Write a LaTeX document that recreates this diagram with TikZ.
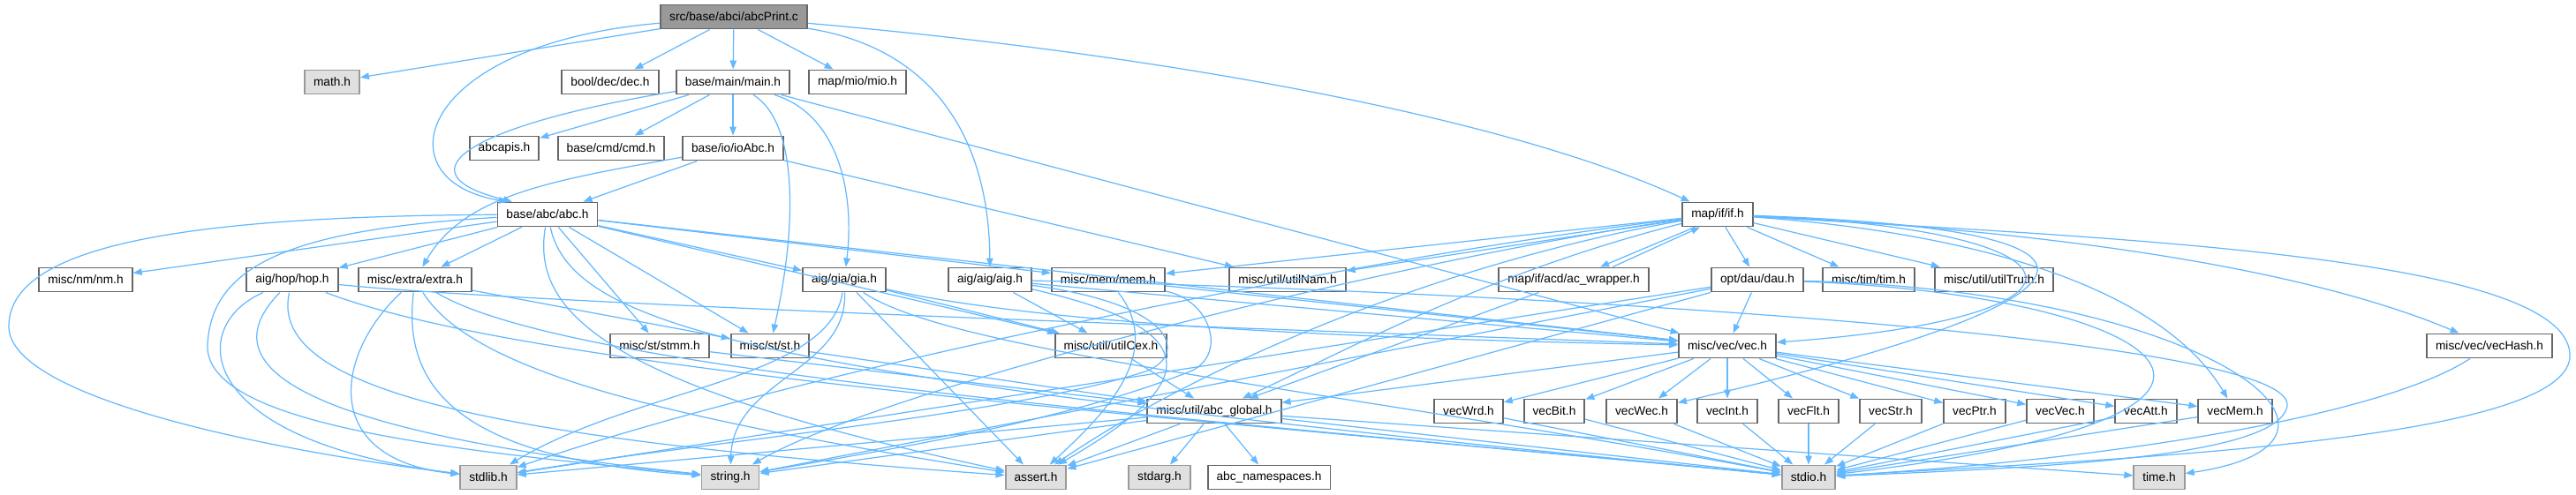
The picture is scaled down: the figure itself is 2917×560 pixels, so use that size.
\documentclass[tikz,border=0pt]{standalone}
\usepackage{fontspec}
\setmainfont{Liberation Sans}
\usetikzlibrary{arrows.meta}
\definecolor{edgeblue}{HTML}{63B8FF}
\definecolor{boxline}{HTML}{666666}
\definecolor{sysline}{HTML}{999999}
\definecolor{sysfill}{HTML}{E0E0E0}
\definecolor{srcfill}{HTML}{999999}
\begin{document}
\begin{tikzpicture}[x=0.01cm,y=-0.01cm]
%define
\tikzstyle{file} = [rectangle, draw=boxline, fill=white, line width=0.55pt, minimum height=0.27cm, inner xsep=0.1cm, inner ysep=0pt, text centered, font=\fontsize{3.9}{4.6}\selectfont]
\tikzstyle{sysfile} = [file, draw=sysline, fill=sysfill]
\tikzstyle{srcfile} = [file, fill=srcfill]
\tikzstyle{arrow} = [-{Triangle[length=0.1cm,width=0.075cm]}, draw=edgeblue, line width=0.35pt]

\useasboundingbox (0,0) rectangle (2917,560);

%row0
\node[srcfile](abcprint) at (831,19){src/base/abci/abcPrint.c};
%row1
\node[sysfile](mathh) at (376,93){math.h};
\node[file](dech) at (691,93){bool/dec/dec.h};
\node[file](mainh) at (830,93){base/main/main.h};
\node[file](mioh) at (971,93){map/mio/mio.h};
%row2
\node[file](abcapis) at (571,168){abcapis.h};
\node[file](cmdh) at (692,168){base/cmd/cmd.h};
\node[file](ioabc) at (830,168){base/io/ioAbc.h};
%row3
\node[file](abch) at (620,243){base/abc/abc.h};
\node[file](ifh) at (1945,243){map/if/if.h};
%row4
\node[file](nmh) at (97,317){misc/nm/nm.h};
\node[file](hoph) at (331,317){aig/hop/hop.h};
\node[file](extrah) at (470,317){misc/extra/extra.h};
\node[file](giah) at (956,317){aig/gia/gia.h};
\node[file](aigh) at (1121,317){aig/aig/aig.h};
\node[file](memh) at (1255,317){misc/mem/mem.h};
\node[file](utilnam) at (1458,317){misc/util/utilNam.h};
\node[file](acwrap) at (1782,317){map/if/acd/ac\_wrapper.h};
\node[file](dauh) at (1990,317){opt/dau/dau.h};
\node[file](timh) at (2116,317){misc/tim/tim.h};
\node[file](utiltruth) at (2258,317){misc/util/utilTruth.h};
%row5
\node[file](stmmh) at (747,392){misc/st/stmm.h};
\node[file](sth) at (872,392){misc/st/st.h};
\node[file](utilcex) at (1258,392){misc/util/utilCex.h};
\node[file](vech) at (1956,392){misc/vec/vec.h};
\node[file](vechash) at (2819,392){misc/vec/vecHash.h};
%row6
\node[file](abcglobal) at (1375,466){misc/util/abc\_global.h};
\node[file](vecwrd) at (1663,466){vecWrd.h};
\node[file](vecbit) at (1760,466){vecBit.h};
\node[file](vecwec) at (1859,466){vecWec.h};
\node[file](vecint) at (1956,466){vecInt.h};
\node[file](vecflt) at (2048,466){vecFlt.h};
\node[file](vecstr) at (2141,466){vecStr.h};
\node[file](vecptr) at (2236,466){vecPtr.h};
\node[file](vecvec) at (2333,466){vecVec.h};
\node[file](vecatt) at (2430,466){vecAtt.h};
\node[file](vecmem) at (2531,466){vecMem.h};
%row7
\node[sysfile](stdlibh) at (553,541){stdlib.h};
\node[sysfile](stringh) at (827,541){string.h};
\node[sysfile](asserth) at (1173,541){assert.h};
\node[sysfile](stdargh) at (1313,541){stdarg.h};
\node[file](namespaces) at (1437,541){abc\_namespaces.h};
\node[sysfile](stdioh) at (2048,541){stdio.h};
\node[sysfile](timeh) at (2445,541){time.h};

%line abcPrint.c
\draw[arrow](abcprint)--(mathh);
\draw[arrow](abcprint)--(dech);
\draw[arrow](abcprint)--(mainh);
\draw[arrow](abcprint)--(mioh);
\draw[arrow](abcprint) .. controls (470,50) and (430,205) .. ([xshift=-0.45cm]abch.north);
\draw[arrow](abcprint) .. controls (1060,55) and (1120,160) .. (aigh);
\draw[arrow](abcprint) .. controls (1300,60) and (1700,130) .. (ifh);
%line main.h
\draw[arrow](mainh)--(abcapis);
\draw[arrow](mainh)--(cmdh);
\draw[arrow](mainh)--(ioabc);
\draw[arrow](mainh) .. controls (540,140) and (445,195) .. ([xshift=-0.4cm]abch.north);
\draw[arrow](mainh) .. controls (950,130) and (968,220) .. (giah);
\draw[arrow](mainh) .. controls (905,140) and (902,260) .. (sth);
\draw[arrow](mainh)--(vech);
%line ioAbc.h
\draw[arrow](ioabc)--(abch);
\draw[arrow](ioabc) .. controls (620,205) and (525,222) .. (extrah);
\draw[arrow](ioabc)--(utilnam);
%line abc.h
\draw[arrow](abch)--(nmh);
\draw[arrow](abch)--(hoph);
\draw[arrow](abch)--(extrah);
\draw[arrow](abch)--(stmmh);
\draw[arrow](abch)--(sth);
\draw[arrow](abch)--(giah);
\draw[arrow](abch)--(memh);
\draw[arrow](abch)--(utilcex);
\draw[arrow](abch)--(vech);
\draw[arrow](abch) .. controls (200,245) and (10,280) .. (10,370) .. controls (10,450) and (300,510) .. (stdlibh);
\draw[arrow](abch) .. controls (330,260) and (240,300) .. (235,390) .. controls (230,480) and (500,510) .. (stringh);
\draw[arrow](abch) .. controls (600,360) and (700,440) .. (asserth);
\draw[arrow](abch) .. controls (650,380) and (900,430) .. (stdioh);
%line hop.h
\draw[arrow](hoph) .. controls (210,370) and (220,500) .. (stdlibh);
\draw[arrow](hoph) .. controls (260,390) and (250,480) .. (stringh);
\draw[arrow](hoph) .. controls (300,450) and (600,500) .. (asserth);
\draw[arrow](hoph) .. controls (600,420) and (1300,470) .. (stdioh);
\draw[arrow](hoph) .. controls (600,345) and (1500,375) .. (vech);
%line extra.h
\draw[arrow](extrah)--(sth);
\draw[arrow](extrah) .. controls (380,400) and (360,520) .. (stdlibh);
\draw[arrow](extrah) .. controls (455,440) and (520,520) .. (stringh);
\draw[arrow](extrah) .. controls (540,430) and (800,480) .. (asserth);
\draw[arrow](extrah) .. controls (640,420) and (1300,470) .. (stdioh);
%line gia.h
\draw[arrow](giah)--(asserth);
\draw[arrow](giah)--(utilcex);
\draw[arrow](giah) .. controls (940,430) and (720,440) .. (stdlibh);
\draw[arrow](giah) .. controls (960,420) and (830,430) .. (stringh);
\draw[arrow](giah) .. controls (1080,400) and (1500,440) .. (stdioh);
\draw[arrow](giah) .. controls (1200,372) and (1600,385) .. (vech);
%line aig.h
\draw[arrow](aigh)--(utilcex);
\draw[arrow](aigh)--(vech);
\draw[arrow](aigh) .. controls (1400,380) and (1330,450) .. (asserth);
\draw[arrow](aigh) .. controls (1330,345) and (1345,400) .. (1300,420) .. controls (1150,470) and (800,500) .. (stdlibh);
\draw[arrow](aigh) .. controls (1700,330) and (2600,380) .. (2590,460) .. controls (2580,520) and (2300,530) .. (stdioh);
%line mem.h
\draw[arrow](memh)--(vech);
\draw[arrow](memh) .. controls (1370,340) and (1390,400) .. (1350,420) .. controls (1200,480) and (1000,510) .. (stringh);
\draw[arrow](memh) .. controls (1320,400) and (1250,470) .. (asserth);
%line st.h, stmm.h, utilCex.h
\draw[arrow](stmmh)--(abcglobal);
\draw[arrow](sth)--(abcglobal);
\draw[arrow](utilcex)--(abcglobal);
%line ac_wrapper.h
\draw[arrow]([xshift=0.44cm]acwrap.north)--([xshift=-0.2cm]ifh.south);
\draw[arrow](acwrap)--(abcglobal);
%line dau.h
\draw[arrow](dauh)--(vech);
\draw[arrow](dauh)--(stdlibh);
\draw[arrow](dauh)--(stringh);
\draw[arrow](dauh)--(asserth);
\draw[arrow](dauh) .. controls (2450,335) and (2660,470) .. (stdioh);
\draw[arrow](dauh) .. controls (2500,330) and (2720,500) .. (timeh);
%line if.h
\draw[arrow]([xshift=-0.26cm]ifh.south)--([xshift=0.3cm]acwrap.north);
\draw[arrow](ifh)--(dauh);
\draw[arrow](ifh)--(timh);
\draw[arrow](ifh)--(utiltruth);
\draw[arrow](ifh)--(memh);
\draw[arrow](ifh)--(utilnam);
\draw[arrow](ifh) .. controls (1550,290) and (900,420) .. (stdlibh);
\draw[arrow](ifh) .. controls (1580,295) and (1000,440) .. (stringh);
\draw[arrow](ifh) .. controls (1620,300) and (1350,420) .. (asserth);
\draw[arrow](ifh) .. controls (1680,310) and (1520,400) .. (abcglobal);
\draw[arrow](ifh) .. controls (2380,260) and (2400,360) .. (vech);
\draw[arrow](ifh) .. controls (2450,260) and (2400,340) .. (vecwec);
\draw[arrow](ifh) .. controls (2250,265) and (2450,330) .. (vecmem);
\draw[arrow](ifh) .. controls (2300,260) and (2600,300) .. (vechash);
\draw[arrow](ifh) .. controls (2400,270) and (2900,290) .. (2910,400) .. controls (2920,500) and (2400,520) .. (stdioh);
%line vec.h
\draw[arrow](vech)--(abcglobal);
\draw[arrow](vech)--(vecwrd);
\draw[arrow](vech)--(vecbit);
\draw[arrow](vech)--(vecwec);
\draw[arrow](vech)--(vecint);
\draw[arrow](vech)--(vecflt);
\draw[arrow](vech)--(vecstr);
\draw[arrow](vech)--(vecptr);
\draw[arrow](vech)--(vecvec);
\draw[arrow](vech)--(vecatt);
\draw[arrow](vech)--(vecmem);
\draw[arrow](vechash) .. controls (2700,470) and (2400,520) .. (stdioh);
%line vecXxx.h
\draw[arrow](vecwrd)--(stdioh);
\draw[arrow](vecbit)--(stdioh);
\draw[arrow](vecwec)--(stdioh);
\draw[arrow](vecint)--(stdioh);
\draw[arrow](vecflt)--(stdioh);
\draw[arrow](vecstr)--(stdioh);
\draw[arrow](vecptr)--(stdioh);
\draw[arrow](vecvec)--(stdioh);
\draw[arrow](vecatt)--(stdioh);
\draw[arrow](vecmem)--(stdioh);
%line abc_global.h
\draw[arrow](abcglobal)--(stdlibh);
\draw[arrow](abcglobal)--(stringh);
\draw[arrow](abcglobal)--(asserth);
\draw[arrow](abcglobal)--(stdargh);
\draw[arrow](abcglobal)--(namespaces);
\draw[arrow](abcglobal)--(stdioh);
\draw[arrow](abcglobal)--(timeh);

\end{tikzpicture}
\end{document}
